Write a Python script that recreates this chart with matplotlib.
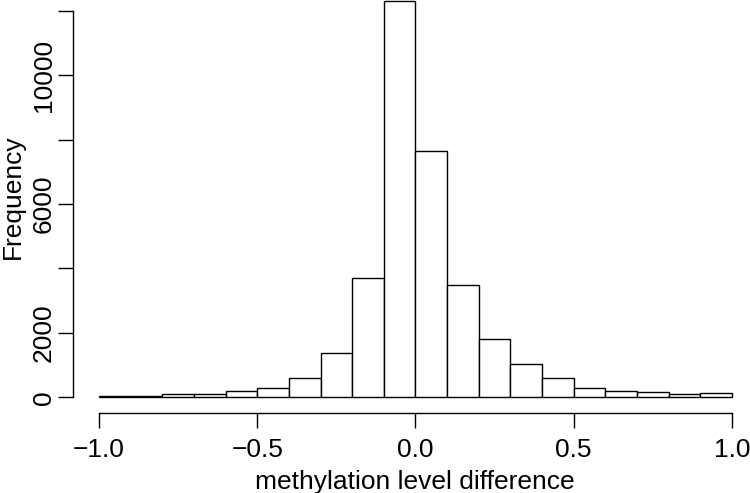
import matplotlib.pyplot as plt

plt.rcParams['font.family'] = ['Liberation Sans', 'DejaVu Sans']

# histogram of methylation level differences (bin width 0.1)
bin_left = [-1.0, -0.9, -0.8, -0.7, -0.6, -0.5, -0.4, -0.3, -0.2, -0.1,
            0.0, 0.1, 0.2, 0.3, 0.4, 0.5, 0.6, 0.7, 0.8, 0.9]
counts = [25, 50, 95, 115, 210, 285, 600, 1370, 3700, 12310,
          7640, 3490, 1795, 1020, 590, 290, 207, 165, 98, 135]

x_ticks = [-1.0, -0.5, 0.0, 0.5, 1.0]
x_labels = ['\u22121.0', '\u22120.5', '0.0', '0.5', '1.0']
y_ticks = [0, 2000, 4000, 6000, 8000, 10000, 12000]
y_labels = ['0', '2000', '', '6000', '', '10000', '']

fig = plt.figure(figsize=(7.5, 4.93), dpi=100)
ax = fig.add_axes([0.0973, 0.1623, 0.896, 0.8377])

ax.bar(bin_left, counts, width=0.1, align='edge', color='white',
       edgecolor='black', linewidth=1.0, clip_on=False)

ax.set_xlim(-1.0821, 1.0411)
ax.set_ylim(-487, 12332)

for s in ['top', 'right']:
    ax.spines[s].set_visible(False)
ax.spines['left'].set_bounds(0, 12000)
ax.spines['bottom'].set_bounds(-1, 1)
for s in ['left', 'bottom']:
    ax.spines[s].set_linewidth(1.0)

ax.set_xticks(x_ticks)
ax.set_xticklabels(x_labels)
ax.set_yticks(y_ticks)
ax.set_yticklabels(y_labels, rotation=90, va='center')
ax.tick_params(direction='out', length=11, width=1.0, labelsize=19)
ax.tick_params(axis='x', pad=7)
ax.tick_params(axis='y', pad=1.5)

ax.set_xlabel('methylation level difference', fontsize=19)
ax.xaxis.set_label_coords(415 / 750, (493 - 494) / 493, transform=fig.transFigure)
ax.set_ylabel('Frequency', fontsize=19)
ax.yaxis.set_label_coords(1 / 750, (493 - 197) / 493, transform=fig.transFigure)
ax.xaxis.label.set_va('bottom')
ax.yaxis.label.set_va('top')

fig.savefig('out.png', dpi=100)
